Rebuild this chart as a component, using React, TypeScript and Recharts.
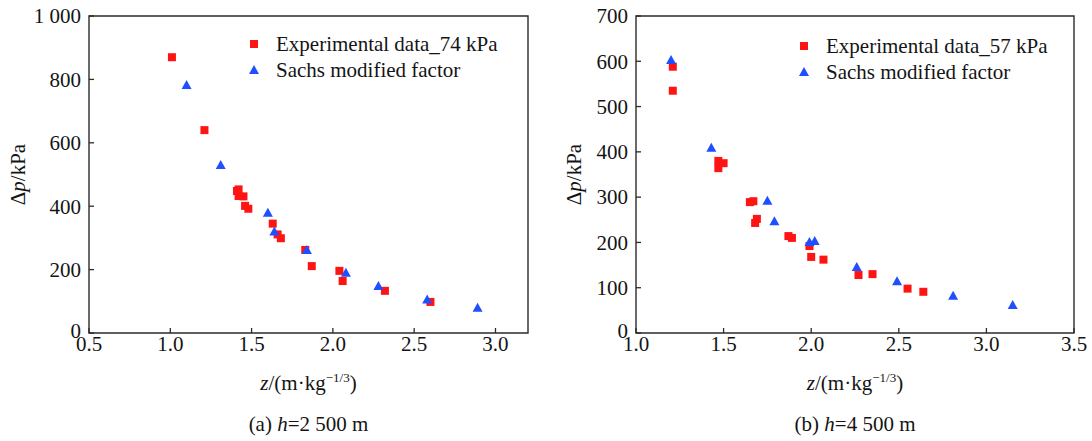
import React from "react";
import { ScatterChart, Scatter, XAxis, YAxis, ReferenceArea, Legend } from "recharts";

const RED = "#ff1414";
const BLUE = "#1f4fff";
const INK = "#2b2b2b";
const TEXT = "#141414";
const FONT = "Liberation Serif, Tinos, Times New Roman, Times, DejaVu Serif, serif";
const FS = 21;

// (a) h = 2 500 m
const zExpA = [1.01, 1.21, 1.42, 1.41, 1.45, 1.42, 1.46, 1.48, 1.63, 1.66, 1.68, 1.83, 1.87, 2.04, 2.06, 2.32, 2.6];
const dpExpA = [870, 640, 453, 448, 431, 432, 401, 392, 345, 311, 299, 262, 211, 196, 164, 133, 98];
const zSachsA = [1.1, 1.31, 1.6, 1.64, 1.84, 2.08, 2.28, 2.58, 2.89];
const dpSachsA = [782, 530, 379, 320, 262, 190, 148, 106, 80];

// (b) h = 4 500 m
const zExpB = [1.21, 1.21, 1.47, 1.5, 1.47, 1.65, 1.67, 1.69, 1.68, 1.87, 1.89, 1.99, 2.0, 2.07, 2.27, 2.35, 2.55, 2.64];
const dpExpB = [588, 535, 380, 375, 364, 289, 291, 252, 243, 214, 210, 192, 168, 162, 128, 130, 98, 91];
const zSachsB = [1.2, 1.43, 1.75, 1.79, 1.99, 2.02, 2.26, 2.49, 2.81, 3.15];
const dpSachsB = [603, 409, 292, 247, 201, 203, 146, 114, 82, 62];

const xTicksA = [0.5, 1.0, 1.5, 2.0, 2.5, 3.0];
const yTicksA = [0, 200, 400, 600, 800, 1000];
const xTicksB = [1.0, 1.5, 2.0, 2.5, 3.0, 3.5];
const yTicksB = [0, 100, 200, 300, 400, 500, 600, 700];

const toPoints = (z: number[], dp: number[]) => z.map((v, i) => ({ z: v, dp: dp[i] }));

const Square = (props: any) => {
  const { cx, cy } = props;
  if (cx == null || cy == null) return null;
  return <rect x={cx - 4} y={cy - 4} width={8} height={8} fill={RED} />;
};

const Triangle = (props: any) => {
  const { cx, cy } = props;
  if (cx == null || cy == null) return null;
  return <polygon points={`${cx},${cy - 5} ${cx + 5},${cy + 4} ${cx - 5},${cy + 4}`} fill={BLUE} />;
};

// inward ticks, labels outside
const XTick = (props: any) => {
  const { x, y, payload } = props;
  return (
    <g>
      <line x1={x} y1={y} x2={x} y2={y - 5} stroke={INK} strokeWidth={1.3} />
      <text x={x} y={y + 18} textAnchor="middle" fontSize={FS} style={{ fontFamily: FONT }} fill={TEXT}>
        {Number(payload.value).toFixed(1)}
      </text>
    </g>
  );
};

const YTick = (props: any) => {
  const { x, y, payload } = props;
  const v = Number(payload.value);
  const label = v >= 1000 ? "1 000" : String(v);
  // lift the zero a touch so it clears the first x label
  const lift = v === 0 ? -2 : 0;
  return (
    <g>
      <line x1={x} y1={y} x2={x + 5} y2={y} stroke={INK} strokeWidth={1.3} />
      <text x={x - 8} y={y + lift} dy="0.35em" textAnchor="end" fontSize={FS} style={{ fontFamily: FONT }} fill={TEXT}>
        {label}
      </text>
    </g>
  );
};

const LegendRows = ({ expName }: { expName: string }) => (
  <div style={{ fontFamily: FONT, fontSize: FS, color: TEXT, lineHeight: "26px", whiteSpace: "nowrap" }}>
    <div style={{ display: "flex", alignItems: "center", height: 26 }}>
      <svg width={12} height={26}>
        <rect x={2} y={9} width={8} height={8} fill={RED} />
      </svg>
      <span style={{ marginLeft: 16 }}>{expName}</span>
    </div>
    <div style={{ display: "flex", alignItems: "center", height: 26 }}>
      <svg width={12} height={26}>
        <polygon points="6,8 11,17 1,17" fill={BLUE} />
      </svg>
      <span style={{ marginLeft: 16 }}>Sachs modified factor</span>
    </div>
  </div>
);

interface PanelProps {
  left: number;
  marginLeft: number;
  expName: string;
  exp: { z: number; dp: number }[];
  sachs: { z: number; dp: number }[];
  xDomain: [number, number];
  xTicks: number[];
  yDomain: [number, number];
  yTicks: number[];
  yLabelX: number;
  legendLeft: number;
  legendTop: number;
  tag: string;
  height: string;
}

function Panel(p: PanelProps) {
  const xTitle = (props: any) => {
    const vb = props.viewBox;
    const cx = vb.x + vb.width / 2;
    return (
      <g style={{ fontFamily: FONT }} fill={TEXT}>
        <text x={cx} y={vb.y + 57} textAnchor="middle" fontSize={FS}>
          <tspan fontStyle="italic">z</tspan>
          <tspan>/(m·kg</tspan>
          <tspan dy={-8} fontSize={13}>−1/3</tspan>
          <tspan dy={8}>)</tspan>
        </text>
        <text x={cx} y={vb.y + 98} textAnchor="middle" fontSize={FS}>
          <tspan>{p.tag} </tspan>
          <tspan fontStyle="italic">h</tspan>
          <tspan>={p.height}</tspan>
        </text>
      </g>
    );
  };

  const yTitle = (props: any) => {
    const vb = props.viewBox;
    const cy = vb.y + vb.height / 2;
    return (
      <text
        x={p.yLabelX}
        y={cy}
        dy="0.35em"
        textAnchor="middle"
        fontSize={FS}
        style={{ fontFamily: FONT }}
        fill={TEXT}
        transform={`rotate(-90 ${p.yLabelX} ${cy})`}
      >
        <tspan>Δ</tspan>
        <tspan fontStyle="italic">p</tspan>
        <tspan>/kPa</tspan>
      </text>
    );
  };

  return (
    <div style={{ position: "absolute", left: p.left, top: 0 }}>
      <ScatterChart width={546} height={441} margin={{ top: 16, right: 18, bottom: 48, left: p.marginLeft }}>
        <XAxis
          type="number"
          dataKey="z"
          domain={p.xDomain}
          ticks={p.xTicks}
          allowDataOverflow
          height={60}
          axisLine={false}
          tickLine={false}
          tickSize={0}
          tickMargin={0}
          tick={<XTick />}
          interval={0}
          label={{ content: xTitle }}
        />
        <YAxis
          type="number"
          dataKey="dp"
          domain={p.yDomain}
          ticks={p.yTicks}
          allowDataOverflow
          width={60}
          axisLine={false}
          tickLine={false}
          tickSize={0}
          tickMargin={0}
          tick={<YTick />}
          interval={0}
          label={{ content: yTitle }}
        />
        <ReferenceArea
          x1={p.xDomain[0]}
          x2={p.xDomain[1]}
          y1={p.yDomain[0]}
          y2={p.yDomain[1]}
          fill="none"
          stroke={INK}
          strokeWidth={1.4}
        />
        <Scatter name={p.expName} data={p.exp} shape={Square} isAnimationActive={false} />
        <Scatter name="Sachs modified factor" data={p.sachs} shape={Triangle} isAnimationActive={false} />
        <Legend
          layout="vertical"
          align="center"
          verticalAlign="middle"
          wrapperStyle={{ left: p.legendLeft, top: p.legendTop, width: "auto" }}
          content={() => <LegendRows expName={p.expName} />}
        />
      </ScatterChart>
    </div>
  );
}

export default function App() {
  return (
    <div style={{ position: "absolute", left: 0, top: 0, width: 1092, height: 441, background: "#fff", fontFamily: FONT }}>
      <Panel
        left={0}
        marginLeft={29}
        expName="Experimental data_74 kPa"
        exp={toPoints(zExpA, dpExpA)}
        sachs={toPoints(zSachsA, dpSachsA)}
        xDomain={[0.5, 3.2]}
        xTicks={xTicksA}
        yDomain={[0, 1000]}
        yTicks={yTicksA}
        yLabelX={18}
        legendLeft={248}
        legendTop={31}
        tag="(a)"
        height="2 500 m"
      />
      <Panel
        left={546}
        marginLeft={30}
        expName="Experimental data_57 kPa"
        exp={toPoints(zExpB, dpExpB)}
        sachs={toPoints(zSachsB, dpSachsB)}
        xDomain={[1.0, 3.5]}
        xTicks={xTicksB}
        yDomain={[0, 700]}
        yTicks={yTicksB}
        yLabelX={28}
        legendLeft={252}
        legendTop={33}
        tag="(b)"
        height="4 500 m"
      />
    </div>
  );
}
